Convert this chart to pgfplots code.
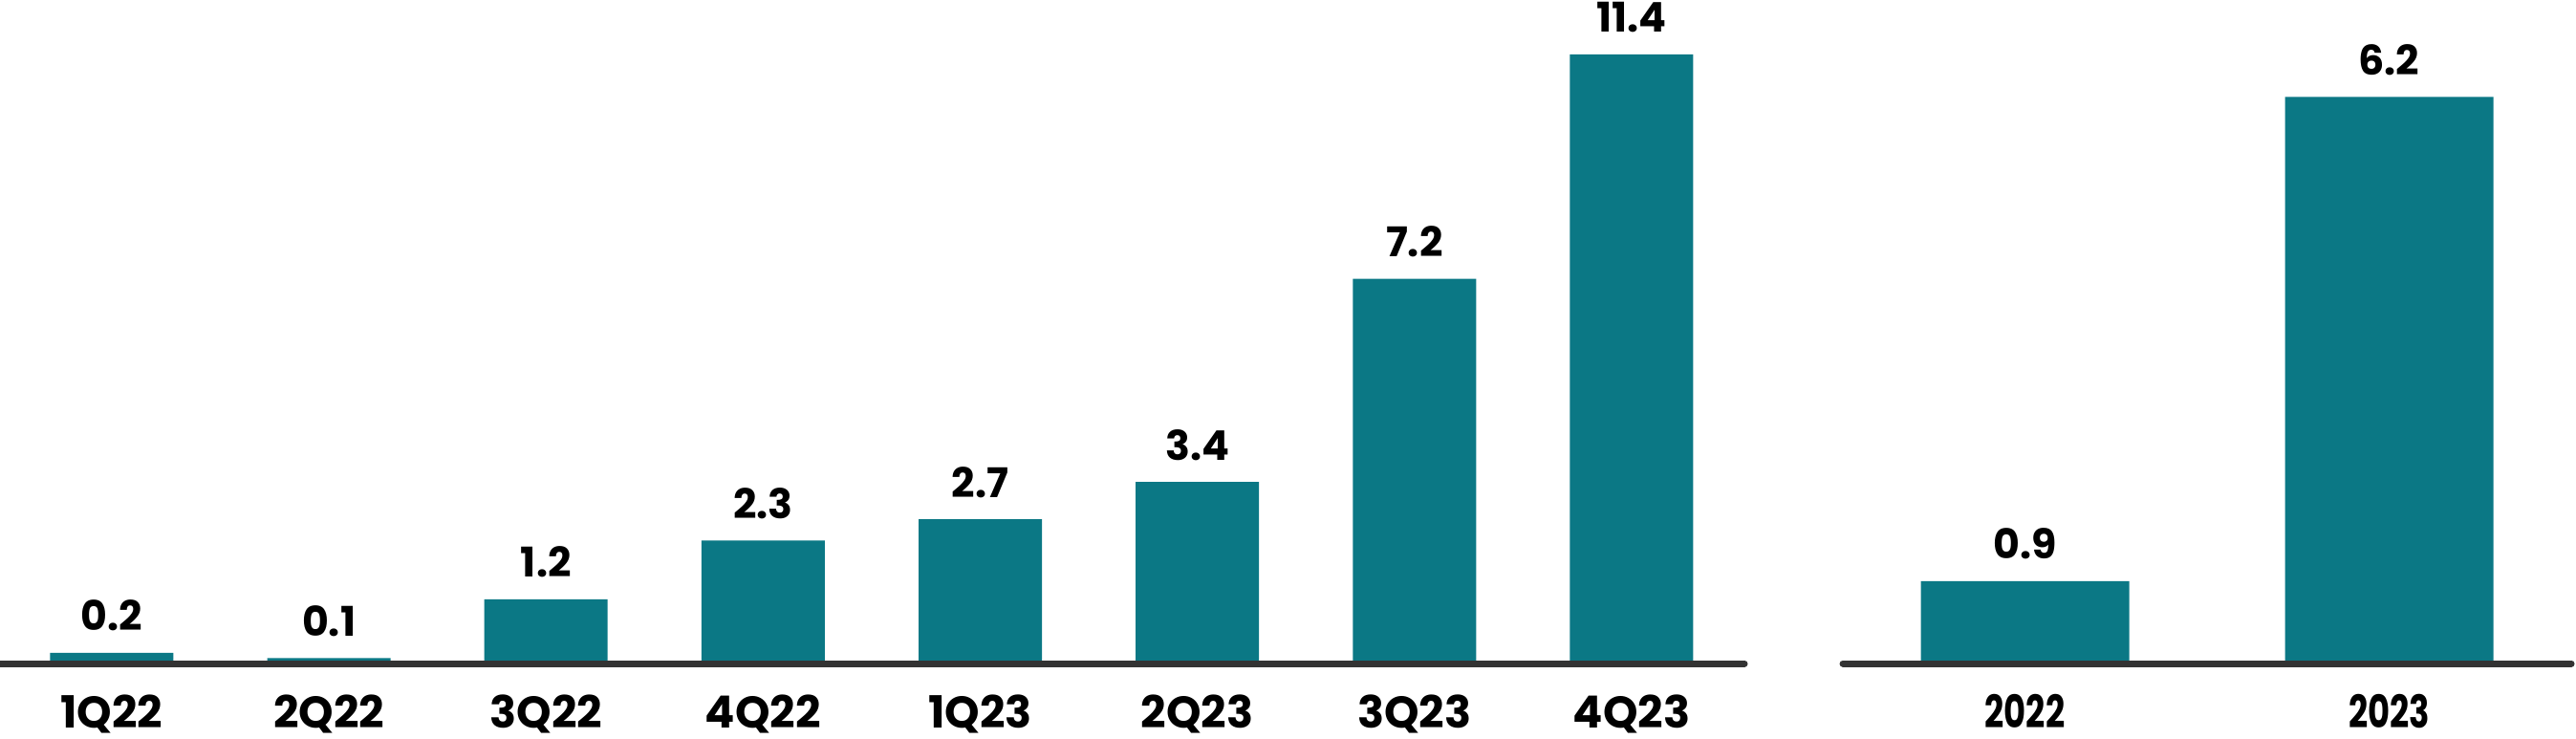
\documentclass[border=0pt]{standalone}
\usepackage{fontspec}
\setmainfont{Poppins}
\newfontfamily\condfont{Poppins}[FakeStretch=0.75]
\usepackage{pgfplots}
\usepackage{pgfplotstable}
\pgfplotsset{compat=1.18}
\definecolor{barteal}{RGB}{11,120,133}
\definecolor{axisgray}{RGB}{51,51,51}

\pgfplotstableread{
x val lab
0 0.2 0.2
1 0.1 0.1
2 1.2 1.2
3 2.3 2.3
4 2.7 2.7
5 3.4 3.4
6 7.2 7.2
7 11.4 11.4
}\quarterly

\pgfplotstableread{
x val lab
0 0.9 0.9
1 6.2 6.2
}\annual

\pgfplotsset{
  mystyle/.style={
    scale only axis,
    axis on top,
    clip=false,
    ymin=0,
    axis y line=none,
    axis x line*=bottom,
    x axis line style={line width=1.75pt, axisgray, line cap=round, -},
    major tick length=0pt,
    xtick=data,
    ybar,
    point meta=explicit symbolic,
    nodes near coords,
    every node near coord/.append style={anchor=base, inner sep=0pt, yshift=5.75pt, text=black},
    xticklabel style={anchor=base, inner sep=0pt, text depth=0pt, yshift=-16.8pt, text=black},
  }
}

\begin{document}
\begin{tikzpicture}
\begin{axis}[mystyle,
  at={(0pt,19.5pt)}, anchor=south west,
  width=456.25pt, height=173.5pt,
  xmin=-0.515, xmax=7.52, ymax=12.42,
  bar width=32.25pt,
  xticklabels={1Q22,2Q22,3Q22,4Q22,1Q23,2Q23,3Q23,4Q23},
  xticklabel style={font=\bfseries\fontsize{11.6}{12}\selectfont},
  every node near coord/.append style={font=\bfseries\fontsize{10.7}{12}\selectfont},
]
\addplot[fill=barteal, draw=none] table[x=x, y=val, meta=lab] {\quarterly};
\end{axis}
\begin{axis}[mystyle,
  at={(482pt,19.5pt)}, anchor=south west,
  width=190.5pt, height=173.5pt,
  xmin=-0.5, xmax=1.5, ymax=7.26,
  bar width=54.5pt,
  xticklabels={2022,2023},
  xticklabel style={font=\condfont\bfseries\fontsize{11.8}{12}\selectfont},
  every node near coord/.append style={font=\bfseries\fontsize{10.7}{12}\selectfont},
]
\addplot[fill=barteal, draw=none] table[x=x, y=val, meta=lab] {\annual};
\end{axis}
\pgfresetboundingbox
\path (0pt,0pt) rectangle (673.75pt,193pt);
\end{tikzpicture}
\end{document}
